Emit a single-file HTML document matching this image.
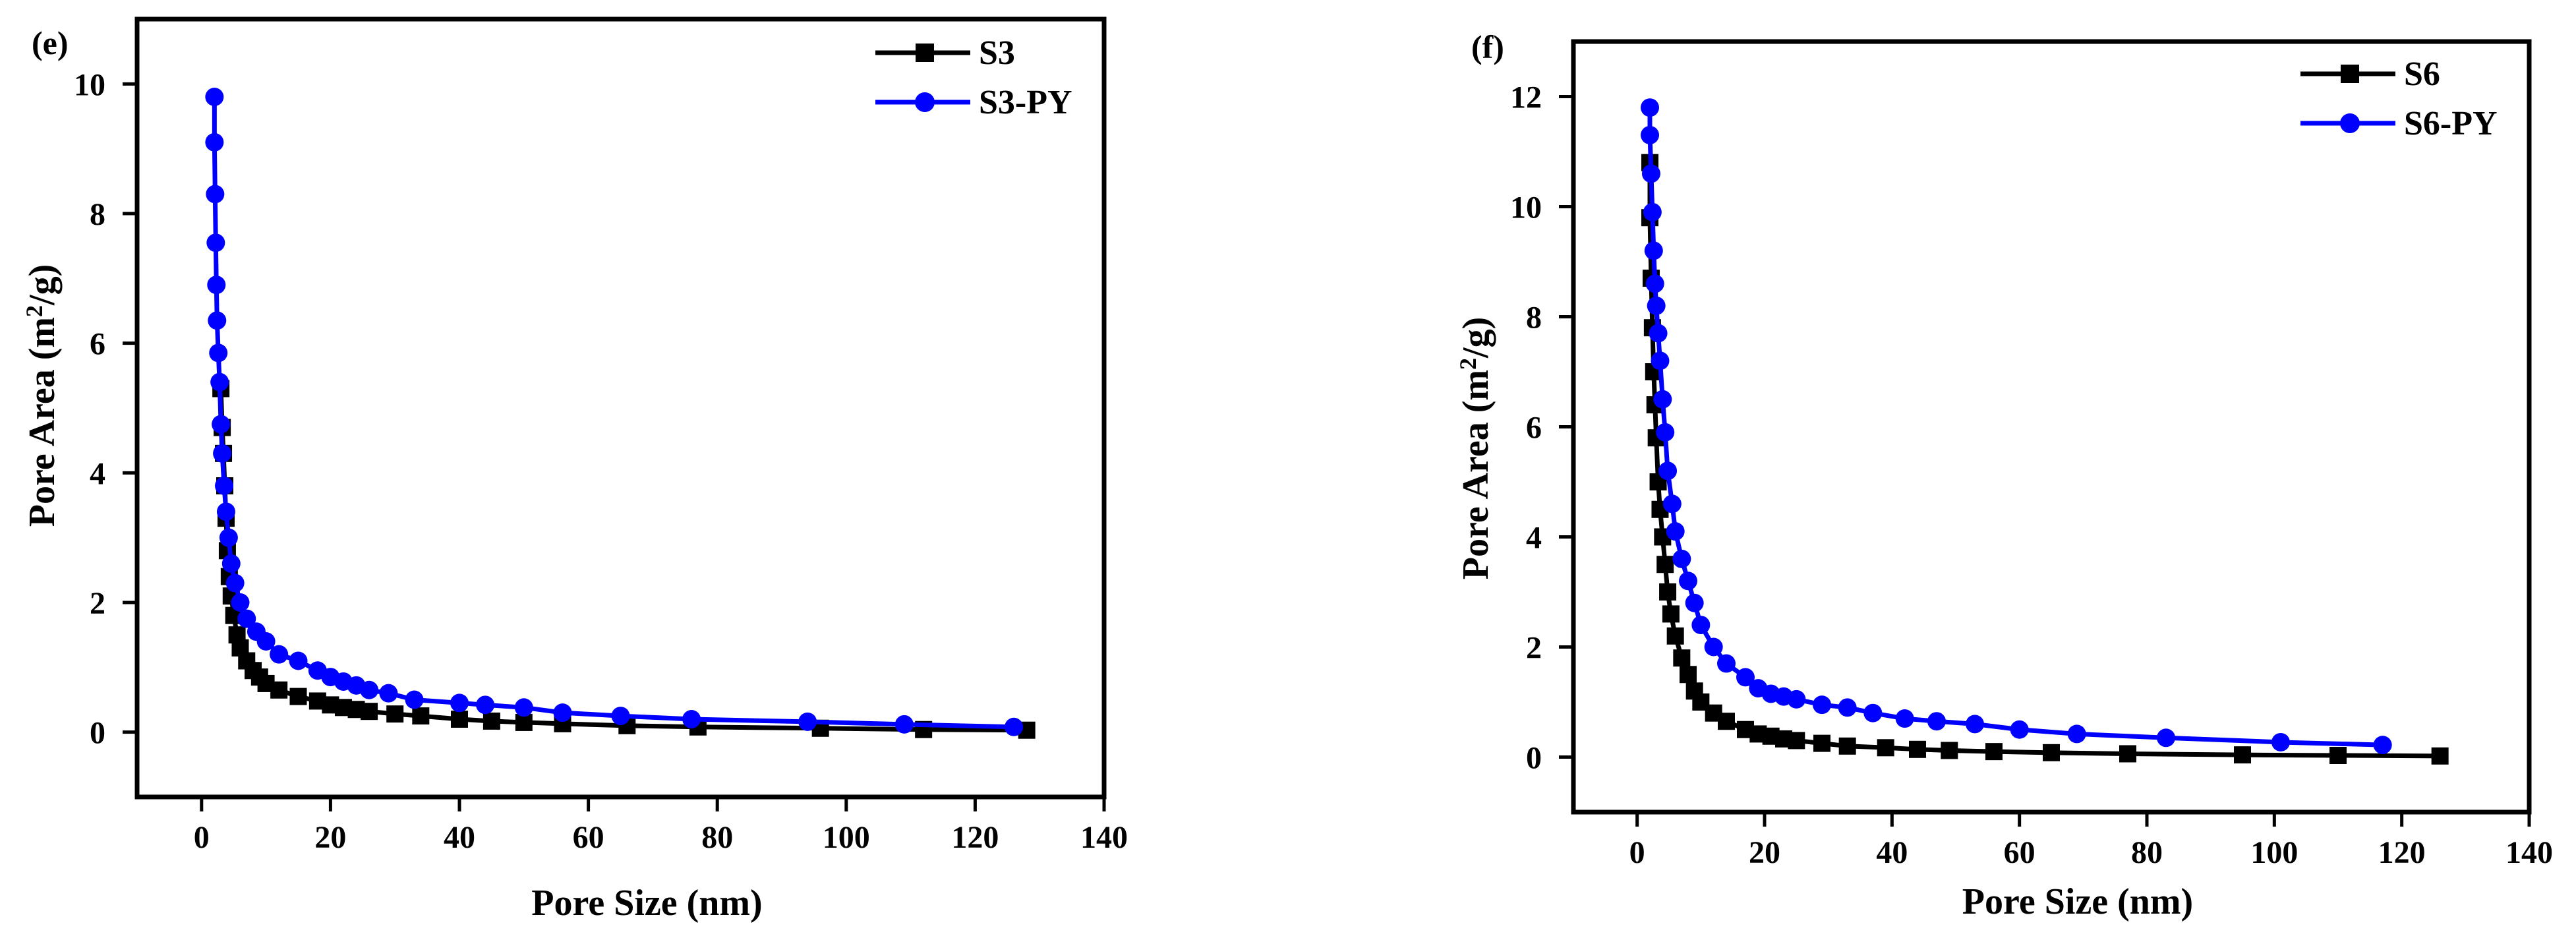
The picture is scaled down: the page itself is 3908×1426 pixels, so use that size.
<!DOCTYPE html>
<html><head><meta charset="utf-8"><style>
html,body{margin:0;padding:0;background:#fff;}
svg{display:block;font-family:"Liberation Serif",serif;font-weight:bold;}
</style></head><body>
<svg id="svg" width="3908" height="1426" viewBox="0 0 3908 1426" xmlns="http://www.w3.org/2000/svg"></svg>
<script>
const xTicks=[0,20,40,60,80,100,120,140];
const yTicksE=[0,2,4,6,8,10];
const yTicksF=[0,2,4,6,8,10,12];
const s3X=[3,3.2,3.4,3.6,3.8,4,4.3,4.6,5,5.5,6,7,8,9,10,12,15,18,20,22,24,26,30,34,40,45,50,56,66,77,96,112,128];
const s3Y=[5.3,4.7,4.3,3.8,3.3,2.8,2.4,2.1,1.8,1.5,1.3,1.1,0.95,0.85,0.75,0.65,0.55,0.48,0.42,0.38,0.35,0.32,0.28,0.25,0.2,0.17,0.15,0.13,0.1,0.08,0.06,0.04,0.03];
const s3pyX=[2,2,2.1,2.2,2.3,2.4,2.6,2.8,3,3.2,3.5,3.8,4.2,4.6,5.2,6,7,8.5,10,12,15,18,20,22,24,26,29,33,40,44,50,56,65,76,94,109,126];
const s3pyY=[9.8,9.1,8.3,7.55,6.9,6.35,5.85,5.4,4.75,4.3,3.8,3.4,3.0,2.6,2.3,2.0,1.75,1.55,1.4,1.2,1.1,0.95,0.85,0.78,0.72,0.65,0.6,0.5,0.45,0.42,0.38,0.3,0.25,0.2,0.16,0.12,0.08];
const s6X=[2,2,2.2,2.4,2.6,2.8,3,3.3,3.6,4,4.4,4.8,5.3,6,7,8,9,10,12,14,17,19,21,23,25,29,33,39,44,49,56,65,77,95,110,126];
const s6Y=[10.8,9.8,8.7,7.8,7.0,6.4,5.8,5.0,4.5,4.0,3.5,3.0,2.6,2.2,1.8,1.5,1.2,1.0,0.8,0.65,0.5,0.42,0.38,0.33,0.3,0.25,0.2,0.17,0.14,0.12,0.1,0.08,0.06,0.04,0.03,0.02];
const s6pyX=[2,2,2.2,2.4,2.6,2.8,3,3.3,3.6,4,4.4,4.8,5.5,6,7,8,9,10,12,14,17,19,21,23,25,29,33,37,42,47,53,60,69,83,101,117];
const s6pyY=[11.8,11.3,10.6,9.9,9.2,8.6,8.2,7.7,7.2,6.5,5.9,5.2,4.6,4.1,3.6,3.2,2.8,2.4,2.0,1.7,1.45,1.25,1.15,1.1,1.05,0.95,0.9,0.8,0.7,0.65,0.6,0.5,0.42,0.35,0.27,0.22];

const NS="http://www.w3.org/2000/svg";
const svg=document.getElementById('svg');
function mk(tag,attrs,parent){const e=document.createElementNS(NS,tag);for(const k in attrs)e.setAttribute(k,attrs[k]);(parent||svg).appendChild(e);return e;}

function panel(o){
  const g=mk('g',{});
  
  
  const sx=v=>o.L+(v-o.x0)/(o.x1-o.x0)*(o.R-o.L);
  const sy=v=>o.B-(v-o.y0)/(o.y1-o.y0)*(o.B-o.T);
  const fr=mk('rect',{x:o.L,y:o.T,width:o.R-o.L,height:o.B-o.T,fill:'none',stroke:'#000','stroke-width':7},g);
  
  
  xTicks.forEach(t=>{
    const x=sx(t);
    mk('line',{x1:x,y1:o.B,x2:x,y2:o.B+22,stroke:'#000','stroke-width':5},g);
    const tx=mk('text',{x:x,y:o.B+o.xtlOff,'text-anchor':'middle','font-size':48},g);
    tx.textContent=t;
    
    
  });
  o.yTicks.forEach(t=>{
    const y=sy(t);
    mk('line',{x1:o.L-22,y1:y,x2:o.L,y2:y,stroke:'#000','stroke-width':5},g);
    const tx=mk('text',{x:o.L-48,y:y+17,'text-anchor':'end','font-size':48},g);
    tx.textContent=t;
    
    
  });
  o.series.forEach(s=>{
    const sg=mk('g',{},g);
    
    
    const pts=s.x.map((v,i)=>sx(v)+','+sy(s.y[i])).join(' ');
    mk('polyline',{points:pts,fill:'none',stroke:s.color,'stroke-width':7},sg);
    s.x.forEach((v,i)=>{
      const cx=sx(v),cy=sy(s.y[i]);
      let m;
      if(s.shape==='sq') m=mk('rect',{x:cx-13,y:cy-13,width:26,height:26,fill:s.color},sg);
      else m=mk('circle',{cx:cx,cy:cy,r:14,fill:s.color},sg);
      
      
    });
  });
  o.series.forEach((s,i)=>{
    const lg=mk('g',{},g);
    
    
    const y=o.legY+i*75;
    mk('line',{x1:o.R-347,y1:y,x2:o.R-203,y2:y,stroke:s.color,'stroke-width':7},lg);
    if(s.shape==='sq') mk('rect',{x:o.R-286,y:y-14,width:28,height:28,fill:s.color},lg);
    else mk('circle',{cx:o.R-272,cy:y,r:15,fill:s.color},lg);
    const t=mk('text',{x:o.R-190,y:y+17,'font-size':52},lg);
    t.textContent=s.label;
  });
  const pl=mk('text',{x:o.pl[0],y:o.pl[1],'font-size':50},g);
  pl.textContent=o.panelLabel;
  
  
  const xt=mk('text',{x:(o.L+o.R)/2+40,y:o.xtY,'text-anchor':'middle','font-size':56},g);
  xt.textContent='Pore Size (nm)';
  
  
  const yt=mk('text',{x:0,y:0,'text-anchor':'middle','font-size':56,transform:`translate(${o.ytX},${o.ytY}) rotate(-90)`},g);
  yt.innerHTML='Pore Area (m<tspan font-size="36" dy="-18">2</tspan><tspan dy="18">/g)</tspan>';
  
  
}

panel({name:'chart-e',L:208,R:1675,T:29,B:1209,x0:-10,x1:140,y0:-1,y1:11,yTicks:yTicksE,xtlOff:77,
  legY:80,pl:[48,82],panelLabel:'(e)',xtY:1388,ytX:82,ytY:600,
  series:[{name:'series-s3',label:'S3',x:s3X,y:s3Y,color:'#000',shape:'sq'},
          {name:'series-s3-py',label:'S3-PY',x:s3pyX,y:s3pyY,color:'#0000ff',shape:'hex'}]});
panel({name:'chart-f',L:2387,R:3837,T:63,B:1232,x0:-10,x1:140,y0:-1,y1:13,yTicks:yTicksF,xtlOff:77,
  legY:112,pl:[2232,88],panelLabel:'(f)',xtY:1386,ytX:2257,ytY:680,
  series:[{name:'series-s6',label:'S6',x:s6X,y:s6Y,color:'#000',shape:'sq'},
          {name:'series-s6-py',label:'S6-PY',x:s6pyX,y:s6pyY,color:'#0000ff',shape:'hex'}]});
</script>
</body></html>
